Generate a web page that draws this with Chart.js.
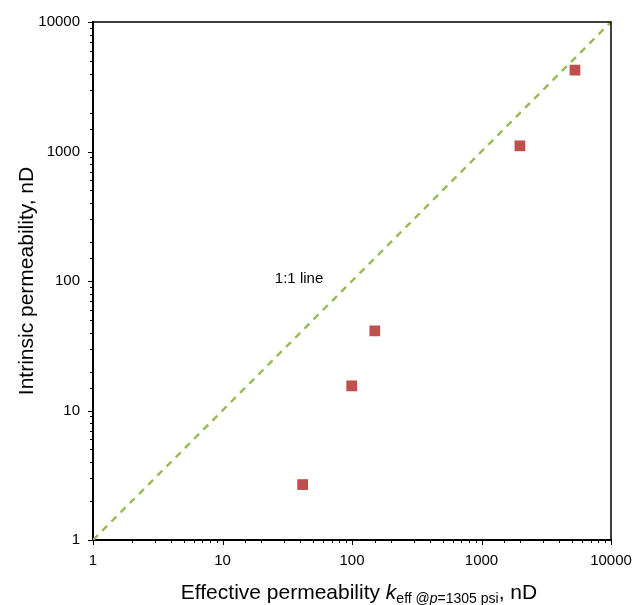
<!DOCTYPE html>
<html>
<head>
<meta charset="utf-8">
<script src="https://cdn.jsdelivr.net/npm/chart.js@4/dist/chart.umd.min.js"></script>
<style>
  body { margin: 0; background: #fff; }
  canvas { display: block; }
</style>
</head>
<body>
<canvas id="permChart" width="644" height="605"></canvas>
<script>
const effectivePerm = [41.6, 99.5, 150, 1980, 5270];
const intrinsicPerm = [2.68, 15.5, 41.2, 1106, 4250];

// 1:1 reference line
const oneToOneX = [1, 10000];
const oneToOneY = [1, 10000];

// Axis range and tick labels
const axisMin = 1;
const axisMax = 10000;
const majorTicks = [1, 10, 100, 1000, 10000];

// Annotation
const lineLabel = '1:1 line';
const lineLabelX = 39;
const lineLabelY = 104;

const FONT = "'Liberation Sans', Arial, sans-serif";

function isMajor(v) {
    return majorTicks.some(m => Math.abs(v - m) < 1e-6 * m);
}

// Draws tick marks, top/right frame, annotation and axis titles
const decorPlugin = {
    id: 'decor',
    afterDraw(chart) {
        const ctx = chart.ctx;
        const area = chart.chartArea;
        const xs = chart.scales.x;
        const ys = chart.scales.y;

        ctx.save();
        ctx.strokeStyle = '#000';
        ctx.lineWidth = 1;

        // tick marks (outside)
        xs.ticks.forEach(t => {
            const px = Math.round(xs.getPixelForValue(t.value)) + 0.5;
            const len = isMajor(t.value) ? 5 : 3;
            ctx.beginPath();
            ctx.moveTo(px, area.bottom);
            ctx.lineTo(px, area.bottom + len);
            ctx.stroke();
        });
        ys.ticks.forEach(t => {
            const py = Math.round(ys.getPixelForValue(t.value)) + 0.5;
            const len = isMajor(t.value) ? 5 : 3;
            ctx.beginPath();
            ctx.moveTo(area.left, py);
            ctx.lineTo(area.left - len, py);
            ctx.stroke();
        });

        // top and right frame
        ctx.lineWidth = 1.5;
        ctx.beginPath();
        ctx.moveTo(area.left, area.top);
        ctx.lineTo(area.right, area.top);
        ctx.lineTo(area.right, area.bottom);
        ctx.stroke();

        // 1:1 line label
        ctx.fillStyle = '#000';
        ctx.font = '15px ' + FONT;
        ctx.textAlign = 'center';
        ctx.textBaseline = 'middle';
        ctx.fillText(lineLabel, xs.getPixelForValue(lineLabelX), ys.getPixelForValue(lineLabelY));

        // y axis title
        ctx.save();
        ctx.translate(27, (area.top + area.bottom) / 2);
        ctx.rotate(-Math.PI / 2);
        ctx.font = '21px ' + FONT;
        ctx.fillText('Intrinsic permeability, nD', 0, 0);
        ctx.restore();

        // x axis title with subscript
        const parts = [
            { text: 'Effective permeability ', font: '21px ' + FONT, dy: 0 },
            { text: 'k', font: 'italic 21px ' + FONT, dy: 0 },
            { text: 'eff @', font: '14px ' + FONT, dy: 4 },
            { text: 'p', font: 'italic 14px ' + FONT, dy: 4 },
            { text: '=1305 psi', font: '14px ' + FONT, dy: 4 },
            { text: ', nD', font: '21px ' + FONT, dy: 0 }
        ];
        let total = 0;
        parts.forEach(p => { ctx.font = p.font; p.w = ctx.measureText(p.text).width; total += p.w; });
        let x = 359 - total / 2;
        const baseY = 599;
        ctx.textAlign = 'left';
        ctx.textBaseline = 'alphabetic';
        parts.forEach(p => {
            ctx.font = p.font;
            ctx.fillText(p.text, x, baseY + p.dy);
            x += p.w;
        });
        ctx.restore();
    }
};

const ctx = document.getElementById('permChart').getContext('2d');
new Chart(ctx, {
    type: 'scatter',
    data: {
        datasets: [
            {
                label: '1:1 line',
                type: 'line',
                data: oneToOneX.map((x, i) => ({ x: x, y: oneToOneY[i] })),
                borderColor: '#9BBB59',
                borderWidth: 2.5,
                borderDash: [7, 6],
                pointRadius: 0,
                fill: false
            },
            {
                label: 'Samples',
                data: effectivePerm.map((x, i) => ({ x: x, y: intrinsicPerm[i] })),
                pointStyle: 'rect',
                pointRadius: 7.6,
                pointHoverRadius: 7.6,
                backgroundColor: '#C0504D',
                borderColor: '#C0504D',
                borderWidth: 0
            }
        ]
    },
    options: {
        responsive: false,
        animation: false,
        layout: { padding: { top: 20, right: 33, left: 0, bottom: 0 } },
        plugins: {
            legend: { display: false },
            tooltip: { enabled: false }
        },
        scales: {
            x: {
                type: 'logarithmic',
                min: axisMin,
                max: axisMax,
                grid: { drawOnChartArea: false, drawTicks: false },
                border: { display: true, color: '#000', width: 2 },
                ticks: {
                    autoSkip: false,
                    maxRotation: 0,
                    padding: 12,
                    color: '#000',
                    font: { family: FONT, size: 15 },
                    callback: v => isMajor(v) ? String(v) : ''
                },
                afterFit: s => { s.height = 65; }
            },
            y: {
                type: 'logarithmic',
                min: axisMin,
                max: axisMax,
                grid: { drawOnChartArea: false, drawTicks: false },
                border: { display: true, color: '#000', width: 2 },
                ticks: {
                    autoSkip: false,
                    padding: 13,
                    color: '#000',
                    font: { family: FONT, size: 15 },
                    callback: v => isMajor(v) ? String(v) : ''
                },
                afterFit: s => { s.width = 93; }
            }
        }
    },
    plugins: [decorPlugin]
});
</script>
</body>
</html>
